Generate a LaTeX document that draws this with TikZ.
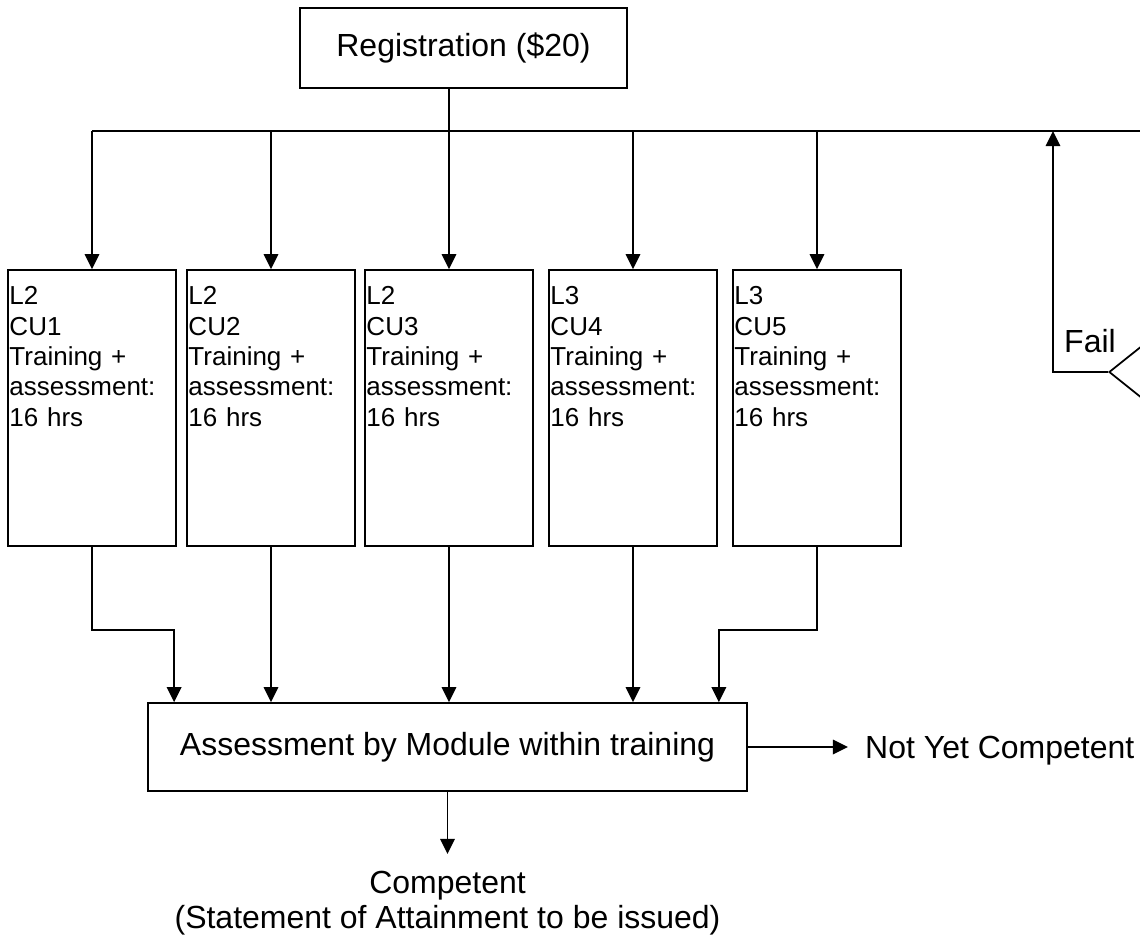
\documentclass[tikz,border=0pt]{standalone}
\usepackage{fontspec}
\setmainfont{Liberation Sans}
\usetikzlibrary{arrows.meta,shapes.geometric}
\tikzset{
	box/.style={draw, line width=1pt, inner sep=0pt},
	unitbox/.style={box, minimum width=33.6mm, minimum height=55.2mm},
	arr/.style={line width=1pt, -{Triangle[length=3mm,width=2.9mm]}},
	lbl/.style={font=\fontsize{18.2}{20}\selectfont},
	small/.style={font=\fontsize{14.8}{17.3}\selectfont}
}
\begin{document}
\begin{tikzpicture}[x=0.2mm,y=-0.2mm]
	\useasboundingbox (0,0) rectangle (1140,936);
	\clip (0,0) rectangle (1140,936);
	\node[box, lbl, minimum width=65.4mm, minimum height=16mm] (reg) at (463.5,48) {Registration (\$20)};
	\coordinate (busl) at (92,131);
	\coordinate (busr) at (1160,131);
	\draw[line width=1pt] (busl) -- (busr);
	\foreach \n/\x/\lv in {1/92/2,2/271/2,3/449/2,4/633/3,5/817/3}
	{
		\node[unitbox] (cu\n) at (\x,408) {};
		\node[small, anchor=north west, inner sep=0pt, text width=32mm, align=left] (t\n) at ([xshift=0.4mm,yshift=-3.4mm]cu\n.north west) {L\lv\\CU\n\\Training +\\assessment:\\16 hrs};
		\draw[arr] (cu\n.north |- busl) -- (cu\n.north);
	}
	\draw[line width=1pt] (reg.south -| cu3) -- (cu3.north |- busl);
	
	\node[box, lbl, minimum width=119.8mm, minimum height=17.6mm] (assess) at (447.5,747) {Assessment by Module within training};
	\draw[arr] (cu1.south) -- ++(0,83) -| ([xshift=5.4mm]assess.north west);
	\foreach \n in {2,3,4}
		\draw[arr] (cu\n.south) -- (cu\n.south |- assess.north);
	\draw[arr] (cu5.south) -- ++(0,83) -| ([xshift=-5.8mm]assess.north east);
	
	\node[lbl, anchor=west, inner sep=0pt] (nyc) at ([xshift=23.4mm,yshift=-0.8mm]assess.east) {Not Yet Competent};
	\draw[arr, shorten >=3.4mm] (assess.east) -- (assess.east -| nyc.west);
	\node[lbl, align=center, anchor=north, inner sep=0pt] (comp) at ([yshift=-15.8mm]assess.south) {Competent\\(Statement of Attainment to be issued)};
	\draw[arr, shorten >=3.4mm] (assess.south) -- (comp.north);
	
	\node[draw, diamond, line width=1pt, minimum width=40mm, minimum height=32mm, inner sep=0pt] (check) at (1209,372) {};
	\node[lbl, inner sep=0pt] (fail) at (1090,341) {Fail};
	\coordinate (failup) at (1053,131);
	\draw[arr] (check.west) -| (failup);
\end{tikzpicture}
\end{document}
